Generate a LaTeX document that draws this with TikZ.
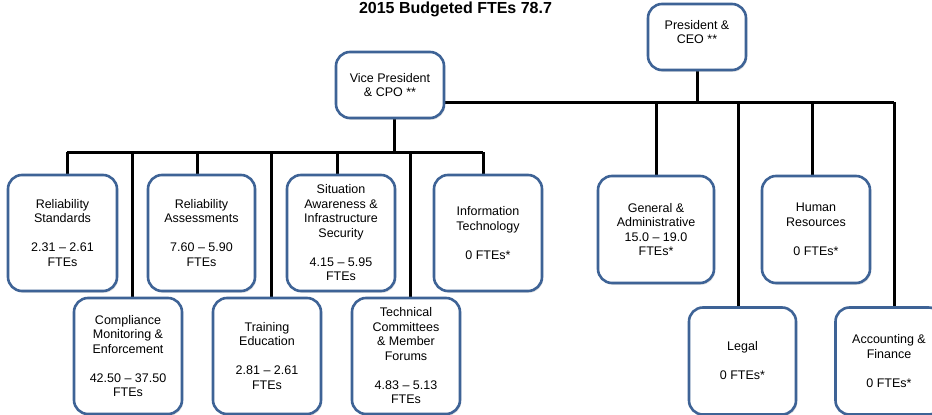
\documentclass[tikz,border=0pt]{standalone}
\usepackage{fontspec}
\setmainfont{Liberation Sans}
\usetikzlibrary{shadows}
\definecolor{boxblue}{RGB}{62,99,150}
\begin{document}
\begin{tikzpicture}[x=1pt,y=-1pt,
  orgbox/.style={draw=boxblue, line width=2.6pt, rounded corners=14pt, fill=white,
    align=center, inner sep=0pt, font=\fontsize{12.5}{14.5}\selectfont,
    drop shadow={opacity=0.22, shadow xshift=1.2pt, shadow yshift=-1.8pt}},
  conn/.style={line width=3pt, black}]
\useasboundingbox (0,0) rectangle (932,415);
\node[font=\bfseries\fontsize{16}{18}\selectfont] (title) at (455.5,9) {2015 Budgeted FTEs 78.7};

% connector coordinates
\coordinate (vpstem) at (394,152);
\coordinate (pbus) at (697,102);
\coordinate (d1) at (67,152);
\coordinate (d2) at (132,152);
\coordinate (d3) at (197,152);
\coordinate (d4) at (271,152);
\coordinate (d5) at (337,152);
\coordinate (d6) at (410,152);
\coordinate (d7) at (483,152);
\coordinate (p1) at (656,102);
\coordinate (p2) at (738,102);
\coordinate (p3) at (812,102);
\coordinate (p4) at (894,102);

% connectors (behind boxes)
\draw[conn] (d1) -- (d7);
\draw[conn] (394,118) -- (vpstem);
\draw[conn] (444,102) -- (p4);
\draw[conn] (697,70) -- (pbus);
\foreach \d/\yy in {d1/176, d2/300, d3/176, d4/300, d5/176, d6/300, d7/176}
  \draw[conn] (\d) -- (\d |- 0,\yy);
\foreach \d/\yy in {p1/177, p2/309, p3/177, p4/309}
  \draw[conn] (\d) -- (\d |- 0,\yy);

% boxes
\node[orgbox, minimum width=98pt, minimum height=66pt] (ceo) at (697,37) {President \&\\CEO **\\[-4pt]~};
\node[orgbox, minimum width=108pt, minimum height=66pt] (vp) at (390,85) {Vice President\\\& CPO **};

\node[orgbox, minimum width=109pt, minimum height=116pt] (rs) at (62.5,233) {Reliability\\Standards\\[14.5pt]2.31 -- 2.61\\FTEs};
\node[orgbox, minimum width=107pt, minimum height=116pt] (ra) at (201.5,233) {Reliability\\Assessments\\[14.5pt]7.60 -- 5.90\\FTEs};
\node[orgbox, minimum width=108pt, minimum height=116pt] (sa) at (341,233) {Situation\\Awareness \&\\Infrastructure\\Security\\[14.5pt]4.15 -- 5.95\\FTEs};
\node[orgbox, minimum width=108pt, minimum height=116pt] (it) at (488,233) {Information\\Technology\\[14.5pt]0 FTEs*};

\node[orgbox, minimum width=108pt, minimum height=116pt] (cm) at (128,356) {Compliance\\Monitoring \&\\Enforcement\\[14.5pt]42.50 -- 37.50\\FTEs};
\node[orgbox, minimum width=108pt, minimum height=116pt] (te) at (267,356) {Training\\Education\\[14.5pt]2.81 -- 2.61\\FTEs};
\node[orgbox, minimum width=108pt, minimum height=116pt] (tc) at (406,356) {Technical\\Committees\\\& Member\\Forums\\[14.5pt]4.83 -- 5.13\\FTEs};

\node[orgbox, minimum width=116pt, minimum height=107pt] (ga) at (656,229.5) {General \&\\Administrative\\15.0 -- 19.0\\FTEs*};
\node[orgbox, minimum width=108pt, minimum height=107pt] (hr) at (816,229.5) {Human\\Resources\\[14.5pt]0 FTEs*};
\node[orgbox, minimum width=107pt, minimum height=107pt] (lg) at (742.5,361) {Legal\\[14.5pt]0 FTEs*};
\node[orgbox, minimum width=107pt, minimum height=107pt] (af) at (889,361) {Accounting \&\\Finance\\[14.5pt]0 FTEs*};
\end{tikzpicture}
\end{document}
